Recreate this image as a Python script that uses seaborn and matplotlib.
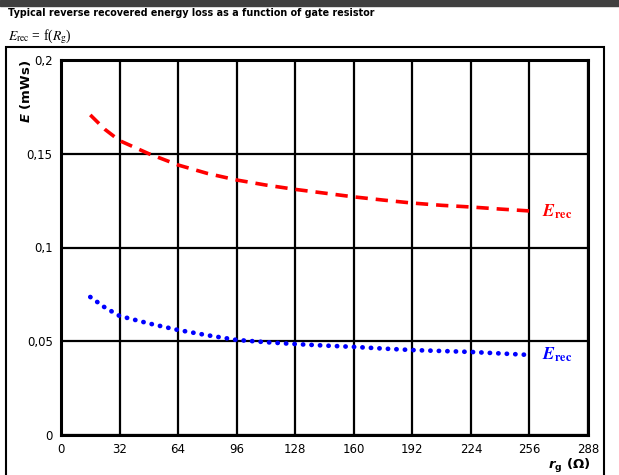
import matplotlib
matplotlib.use("Agg")
import matplotlib.pyplot as plt
import seaborn as sns
import pandas as pd
from matplotlib.patches import Rectangle

rg = [16, 24, 32, 48, 64, 80, 96, 112, 128, 144, 160, 176, 192, 208, 224, 240, 256]
e_red = [0.1707, 0.163, 0.157, 0.150, 0.144, 0.1395, 0.136, 0.1333, 0.131, 0.129, 0.127, 0.1253, 0.1237, 0.1225, 0.1216, 0.1205, 0.1195]
e_blue = [0.0736, 0.068, 0.0635, 0.0595, 0.056, 0.0532, 0.0507, 0.0495, 0.0485, 0.0477, 0.047, 0.0461, 0.0453, 0.0448, 0.0443, 0.0435, 0.0427]
xticks = [0, 32, 64, 96, 128, 160, 192, 224, 256, 288]
yticks = [0, 0.05, 0.1, 0.15, 0.2]
ytick_labels = ["0", "0,05", "0,1", "0,15", "0,2"]

sns.set_theme(style="white")
plt.rcParams['font.family'] = ['DejaVu Sans']
plt.rcParams['text.color'] = 'black'
plt.rcParams['axes.labelcolor'] = 'black'
plt.rcParams['xtick.color'] = 'black'
plt.rcParams['ytick.color'] = 'black'

df = pd.DataFrame({"rg": rg, "red": e_red, "blue": e_blue})

fig = plt.figure(figsize=(6.19, 4.75), dpi=100)
ax = fig.add_axes([61/619, 1-435/475, (588-61)/619, (435-60)/475])

sns.lineplot(data=df, x="rg", y="red", ax=ax, color="#ff0000", lw=2.6,
             linestyle=(0, (3.4, 2.2)), zorder=3)
sns.lineplot(data=df, x="rg", y="blue", ax=ax, color="#0000ff", lw=3.4,
             linestyle=(0, (0.05, 1.75)), dash_capstyle="round", zorder=3)

ax.set_xlim(0, 288)
ax.set_ylim(0, 0.2)
ax.set_xticks(xticks)
ax.set_xticklabels([str(v) for v in xticks], fontsize=8.5)
ax.set_yticks(yticks)
ax.set_yticklabels(ytick_labels, fontsize=8.5)
ax.grid(True, color="black", lw=1.6)
ax.set_axisbelow(True)
for s in ax.spines.values():
    s.set_color("black")
    s.set_linewidth(2.2)
ax.tick_params(axis="both", length=0, pad=6)
ax.set_xlabel("")
ax.set_ylabel(r"$\mathbfit{E}$ (mWs)", fontsize=9.5, fontweight="bold")
ax.yaxis.set_label_coords(-0.053, 0.915)

ax.text(1.005, -0.082, r"$\mathbfit{r}_{\mathbf{g}}$ (Ω)", transform=ax.transAxes,
        ha="right", va="center", fontsize=9.5, fontweight="bold")

ax.text(263, 0.119, r"$\mathbfit{E}_{\mathbf{rec}}$", color="#ff0000", fontsize=12.5,
        ha="left", va="center", math_fontfamily="stix")
ax.text(263, 0.043, r"$\mathbfit{E}_{\mathbf{rec}}$", color="#0000ff", fontsize=12.5,
        ha="left", va="center", math_fontfamily="stix")

# header decorations
fig.patches.append(Rectangle((0, 1-6/475), 1, 6/475, transform=fig.transFigure,
                             color="#404040", zorder=0))
fig.text(8/619, 1-13/475, "Typical reverse recovered energy loss as a function of gate resistor",
         fontsize=6.9, fontweight="bold", va="center", ha="left")
fig.text(8/619, 1-37/475, r"$\mathit{E}_{\rm rec}$ = f($\mathit{R}_{\rm g}$)",
         fontsize=9.8, va="center", ha="left", family="Liberation Serif",
         math_fontfamily="stix")
fig.patches.append(Rectangle((6/619, -0.02), (604-6)/619, 1-47/475+0.02,
                             transform=fig.transFigure, fill=False,
                             edgecolor="black", lw=1.5, zorder=0))

fig.savefig("out.png", dpi=100)
